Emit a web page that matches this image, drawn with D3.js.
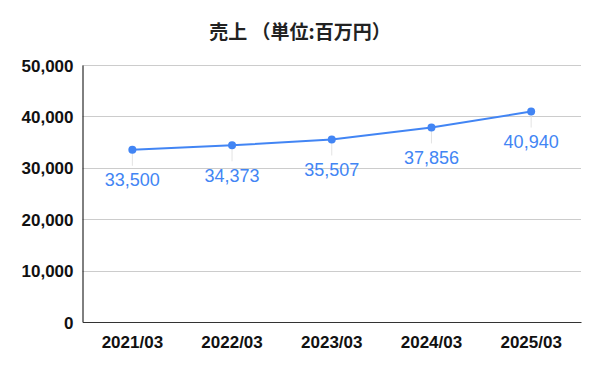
<!DOCTYPE html>
<html>
<head>
<meta charset="utf-8">
<script src="https://d3js.org/d3.v7.min.js"></script>
<style>
    body { margin: 0; background: #fff; }
    .tick text { font-family: "Liberation Sans", Arial, sans-serif; font-weight: bold; fill: #111; }
    .lbl { font-family: "Liberation Sans", Arial, sans-serif; font-size: 18px; fill: #4285f4; }
    .title { font-family: "Noto Sans CJK JP", sans-serif; font-size: 19px; font-weight: 700; fill: #222; }
</style>
</head>
<body>
<script>
var title = "売上 （単位:百万円）";
var years = ["2021/03", "2022/03", "2023/03", "2024/03", "2025/03"];
var sales = [33500, 34373, 35507, 37856, 40940];
var yTicks = [0, 10000, 20000, 30000, 40000, 50000];

var width = 600,
    height = 371,
    margin = {top: 65, right: 19, bottom: 49, left: 82.5};

var svg = d3.select("body").append("svg")
    .attr("width", width)
    .attr("height", height);

var x = d3.scaleBand()
    .domain(years)
    .range([margin.left, width - margin.right]);

var y = d3.scaleLinear()
    .domain([0, 50000])
    .range([height - margin.bottom, margin.top]);

svg.append("text")
    .attr("class", "title")
    .attr("x", 300)
    .attr("y", 39)
    .attr("text-anchor", "middle")
    .text(title);

// gridlines
svg.append("g")
    .selectAll("line")
    .data(yTicks.slice(1))
    .enter().append("line")
    .attr("x1", margin.left)
    .attr("x2", width - margin.right)
    .attr("y1", function (d) { return Math.round(y(d)) + 0.5; })
    .attr("y2", function (d) { return Math.round(y(d)) + 0.5; })
    .attr("stroke", "#cccccc");

var yAxis = svg.append("g")
    .attr("transform", "translate(" + margin.left + ",0)")
    .call(d3.axisLeft(y).tickValues(yTicks).tickSize(0).tickPadding(9).tickFormat(d3.format(",")));
yAxis.select(".domain").attr("stroke", "#000");
yAxis.selectAll("text").style("font-size", "17px").attr("dy", "0.36em");

var xAxis = svg.append("g")
    .attr("transform", "translate(0," + (height - margin.bottom) + ")")
    .call(d3.axisBottom(x).tickSize(0).tickPadding(14));
xAxis.select(".domain").attr("stroke", "#333");
xAxis.selectAll("text").style("font-size", "17px");

// leader lines
svg.append("g")
    .selectAll("line")
    .data(sales)
    .enter().append("line")
    .attr("x1", function (d, i) { return x(years[i]) + x.bandwidth() / 2; })
    .attr("x2", function (d, i) { return x(years[i]) + x.bandwidth() / 2; })
    .attr("y1", function (d) { return y(d); })
    .attr("y2", function (d) { return y(d) + 16; })
    .attr("stroke", "#e3e3e3");

var line = d3.line()
    .x(function (d, i) { return x(years[i]) + x.bandwidth() / 2; })
    .y(function (d) { return y(d); });

svg.append("path")
    .datum(sales)
    .attr("d", line)
    .attr("fill", "none")
    .attr("stroke", "#4285f4")
    .attr("stroke-width", 2);

svg.append("g")
    .selectAll("circle")
    .data(sales)
    .enter().append("circle")
    .attr("cx", function (d, i) { return x(years[i]) + x.bandwidth() / 2; })
    .attr("cy", function (d) { return y(d); })
    .attr("r", 4)
    .attr("fill", "#4285f4");

svg.append("g")
    .selectAll("text")
    .data(sales)
    .enter().append("text")
    .attr("class", "lbl")
    .attr("x", function (d, i) { return x(years[i]) + x.bandwidth() / 2; })
    .attr("y", function (d) { return y(d) + 36.5; })
    .attr("text-anchor", "middle")
    .text(d3.format(","));
</script>
</body>
</html>
